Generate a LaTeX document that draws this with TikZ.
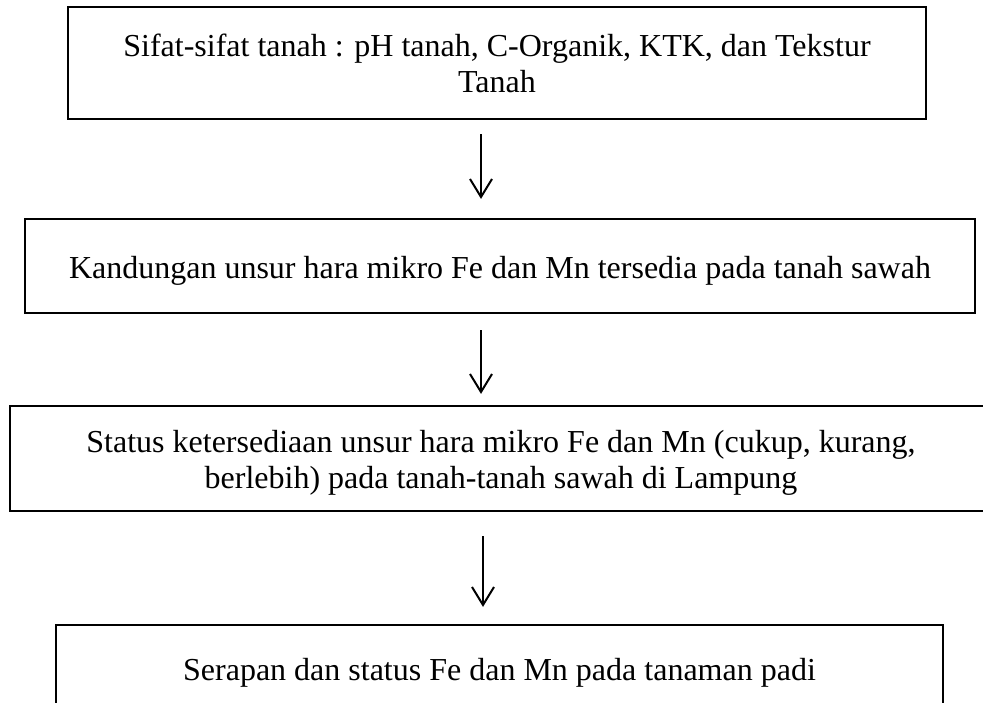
\documentclass[tikz,border=0pt]{standalone}
\usepackage{fontspec}
\setmainfont{Liberation Serif}
\usetikzlibrary{arrows.meta,calc}
\begin{document}
\begin{tikzpicture}[x=1pt,y=-1pt,
  box/.style={draw=black, line width=2.2pt, inner sep=0pt},
  txt/.style={font=\fontsize{32}{36}\selectfont, align=center, inner sep=0pt, anchor=base},
  arr/.style={line width=2pt, -{Straight Barb[length=18pt,width=22pt,line width=2pt]}}]
\useasboundingbox (0,0) rectangle (983,702);
\clip (0,0) rectangle (983,702);
\fill[white] (0,0) rectangle (983,702);
\node[box, minimum width=858pt, minimum height=112pt] (b1) at (497,63) {};
\node[box, minimum width=950pt, minimum height=94pt] (b2) at (500,266) {};
\node[box, minimum width=982pt, minimum height=105pt] (b3) at (501,458.5) {};
\node[box, minimum width=887pt, minimum height=115pt] (b4) at (499.5,682.5) {};
\node[txt] (t1) at (497,92) {Sifat-sifat tanah : pH tanah, C-Organik, KTK, dan Tekstur\\Tanah};
\node[txt] (t2) at (500,278) {Kandungan unsur hara mikro Fe dan Mn tersedia pada tanah sawah};
\node[txt] (t3) at (501,488) {Status ketersediaan unsur hara mikro Fe dan Mn (cukup, kurang,\\berlebih) pada tanah-tanah sawah di Lampung};
\node[txt] (t4) at (499.5,680) {Serapan dan status Fe dan Mn pada tanaman padi};
\coordinate (a1) at (481,0);
\coordinate (a3) at (483,0);
\draw[arr, shorten <=14pt, shorten >=19pt] (b1.south -| a1) -- (b2.north -| a1);
\draw[arr, shorten <=16pt, shorten >=11pt] (b2.south -| a1) -- (b3.north -| a1);
\draw[arr, shorten <=24pt, shorten >=17pt] (b3.south -| a3) -- (b4.north -| a3);
\end{tikzpicture}
\end{document}
